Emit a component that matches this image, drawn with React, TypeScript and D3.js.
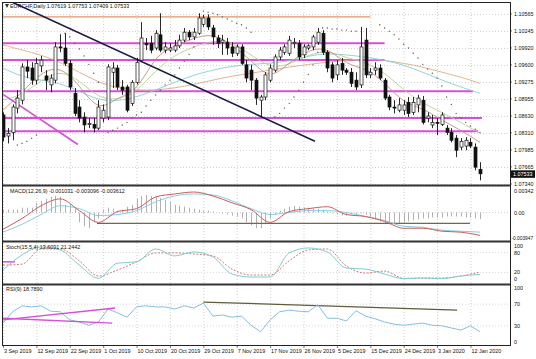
import * as d3 from "d3";

// EURCHF Daily, 3 Sep 2019 .. 14 Jan 2020 — [open, high, low, close]
const candles: [number, number, number, number][] = [
  [1.0865, 1.0870, 1.0815, 1.0823], [1.0825, 1.0840, 1.0811, 1.0830], [1.0832, 1.0885, 1.0817, 1.0880],
  [1.0878, 1.0912, 1.0868, 1.0897], [1.0893, 1.0963, 1.0885, 1.0956], [1.0956, 1.0969, 1.0935, 1.0948],
  [1.0954, 1.0965, 1.0922, 1.0931], [1.0931, 1.0973, 1.0923, 1.0963], [1.0958, 1.0977, 1.0946, 1.0969],
  [1.0939, 1.0950, 1.0912, 1.0931], [1.0922, 1.0942, 1.0908, 1.0935], [1.0931, 1.1003, 1.0925, 1.0994],
  [1.0994, 1.1018, 1.0984, 1.0992], [1.0992, 1.1020, 1.0958, 1.0963], [1.0963, 1.0969, 1.0912, 1.0918],
  [1.0906, 1.0916, 1.0863, 1.0868], [1.0880, 1.0893, 1.0851, 1.0859], [1.0861, 1.0870, 1.0832, 1.0846],
  [1.0847, 1.0859, 1.0840, 1.0849], [1.0847, 1.0859, 1.0832, 1.0840], [1.0840, 1.0893, 1.0836, 1.0880],
  [1.0859, 1.0885, 1.0851, 1.0874], [1.0861, 1.0961, 1.0855, 1.0956], [1.0946, 1.0965, 1.0916, 1.0954],
  [1.0954, 1.0960, 1.0912, 1.0918], [1.0918, 1.0931, 1.0903, 1.0912], [1.0918, 1.0922, 1.0870, 1.0874],
  [1.0887, 1.0931, 1.0882, 1.0927], [1.0927, 1.0973, 1.0923, 1.0965], [1.0969, 1.1041, 1.0965, 1.1011],
  [1.1001, 1.1011, 1.0988, 1.0998], [1.1001, 1.1015, 1.0982, 1.0988], [1.0992, 1.1026, 1.0988, 1.1020],
  [1.1017, 1.1058, 1.0984, 1.0988], [1.0988, 1.1003, 1.0982, 1.0994], [1.0988, 1.1001, 1.0984, 1.0992],
  [1.0988, 1.1007, 1.0984, 1.0996], [1.0996, 1.1017, 1.0992, 1.1007], [1.1007, 1.1030, 1.1003, 1.1022],
  [1.1022, 1.1026, 1.1007, 1.1013], [1.1013, 1.1030, 1.1007, 1.1022], [1.1020, 1.1058, 1.1017, 1.1049],
  [1.1037, 1.1055, 1.1032, 1.1049], [1.1049, 1.1056, 1.1026, 1.1032], [1.1030, 1.1036, 1.0998, 1.1013],
  [1.1011, 1.1017, 1.0992, 1.1001], [1.1003, 1.1017, 1.0979, 1.1007], [1.1003, 1.1011, 1.0979, 1.0992],
  [1.0994, 1.1003, 1.0975, 1.0982], [1.0982, 1.0999, 1.0977, 1.0994], [1.0994, 1.0999, 1.0960, 1.0963],
  [1.0960, 1.0969, 1.0927, 1.0935], [1.0950, 1.0960, 1.0912, 1.0931], [1.0931, 1.0935, 1.0884, 1.0897],
  [1.0893, 1.0903, 1.0861, 1.0899], [1.0899, 1.0946, 1.0893, 1.0941], [1.0931, 1.0961, 1.0927, 1.0954],
  [1.0950, 1.0980, 1.0946, 1.0975], [1.0975, 1.0994, 1.0969, 1.0988], [1.0984, 1.0999, 1.0979, 1.0994],
  [1.0982, 1.1015, 1.0977, 1.1007], [1.1001, 1.1011, 1.0992, 1.1003], [1.1001, 1.1007, 1.0969, 1.0975],
  [1.0979, 1.0999, 1.0973, 1.0994], [1.0992, 1.0999, 1.0988, 1.0996], [1.0994, 1.1017, 1.0988, 1.1013],
  [1.1003, 1.1030, 1.0998, 1.1022], [1.1020, 1.1026, 1.0979, 1.0984], [1.0984, 1.0988, 1.0946, 1.0954],
  [1.0960, 1.0965, 1.0927, 1.0935], [1.0941, 1.0969, 1.0931, 1.0960], [1.0963, 1.0973, 1.0941, 1.0950],
  [1.0950, 1.0954, 1.0941, 1.0946], [1.0946, 1.0954, 1.0918, 1.0925], [1.0931, 1.0946, 1.0912, 1.0918],
  [1.0922, 1.1032, 1.0916, 1.0994], [1.1007, 1.1030, 1.0935, 1.0941], [1.0941, 1.0954, 1.0935, 1.0946],
  [1.0950, 1.0965, 1.0941, 1.0954], [1.0954, 1.0961, 1.0931, 1.0935], [1.0931, 1.0935, 1.0893, 1.0897],
  [1.0899, 1.0903, 1.0874, 1.0880], [1.0880, 1.0893, 1.0868, 1.0878], [1.0874, 1.0897, 1.0870, 1.0884],
  [1.0874, 1.0893, 1.0865, 1.0884], [1.0889, 1.0899, 1.0861, 1.0868], [1.0870, 1.0899, 1.0865, 1.0889],
  [1.0884, 1.0903, 1.0870, 1.0897], [1.0893, 1.0901, 1.0847, 1.0851], [1.0859, 1.0870, 1.0851, 1.0863],
  [1.0846, 1.0865, 1.0840, 1.0851], [1.0851, 1.0859, 1.0827, 1.0849], [1.0847, 1.0870, 1.0844, 1.0865],
  [1.0840, 1.0846, 1.0827, 1.0832], [1.0832, 1.0840, 1.0813, 1.0817], [1.0821, 1.0827, 1.0785, 1.0798],
  [1.0804, 1.0821, 1.0798, 1.0815], [1.0806, 1.0823, 1.0798, 1.0817], [1.0813, 1.0821, 1.0802, 1.0806],
  [1.0804, 1.0811, 1.0760, 1.0766], [1.07619, 1.07753, 1.07409, 1.07533],
];

const dateLabels = [
  "3 Sep 2019", "12 Sep 2019", "22 Sep 2019", "1 Oct 2019", "10 Oct 2019", "20 Oct 2019", "29 Oct 2019",
  "7 Nov 2019", "17 Nov 2019", "26 Nov 2019", "5 Dec 2019", "15 Dec 2019", "24 Dec 2019", "3 Jan 2020", "12 Jan 2020",
];
const priceTicks = [1.10565, 1.10245, 1.0992, 1.096, 1.09275, 1.08955, 1.0863, 1.0831, 1.07985, 1.07665, 1.0734];

// moving averages, read every 4th bar
const maIdx = [0, 4, 8, 12, 16, 20, 24, 28, 32, 36, 40, 44, 48, 52, 56, 60, 64, 68, 72, 76, 80, 84, 88, 92, 96, 100];
const maTeal = [1.0954, 1.0937, 1.0931, 1.0925, 1.091, 1.0893, 1.0891, 1.0899, 1.0912, 1.0927, 1.0941, 1.095, 1.0958, 1.0961, 1.0963, 1.0967, 1.0977, 1.0982, 1.0979, 1.0975, 1.0969, 1.096, 1.0946, 1.0931, 1.0918, 1.0906];
const maTan = [1.0998, 1.0988, 1.0979, 1.0965, 1.0946, 1.0927, 1.0916, 1.0912, 1.0912, 1.0916, 1.0923, 1.0931, 1.0939, 1.0944, 1.095, 1.0956, 1.0961, 1.0965, 1.0969, 1.0971, 1.0969, 1.0963, 1.0956, 1.0946, 1.0937, 1.0925];
const maFast = [1.0874, 1.0908, 1.0946, 1.0958, 1.0922, 1.087, 1.0899, 1.0908, 1.0979, 1.0996, 1.1011, 1.102, 1.0998, 1.0969, 1.0931, 1.0965, 1.0988, 1.0994, 1.096, 1.0954, 1.0927, 1.0887, 1.0878, 1.0855, 1.0836, 1.0813];
const maGreen = [1.0893, 1.0903, 1.0931, 1.095, 1.0931, 1.0897, 1.0893, 1.0908, 1.095, 1.0979, 1.0994, 1.1007, 1.1003, 1.0979, 1.0954, 1.096, 1.0979, 1.0988, 1.0973, 1.0965, 1.0946, 1.0912, 1.0887, 1.087, 1.0851, 1.083];

// parabolic SAR runs
const sarSegments = [
  { start: 3, values: [1.0808, 1.0811, 1.0815, 1.0821, 1.0827] },
  { start: 13, values: [1.102, 1.1013, 1.1001, 1.099, 1.0977, 1.0961, 1.0944, 1.0927] },
  { start: 22, values: [1.0832, 1.0836, 1.084, 1.0846, 1.0851, 1.0859, 1.0865, 1.087, 1.0882, 1.0893, 1.0903, 1.0912, 1.0922, 1.0931, 1.0941, 1.0954, 1.0967, 1.098, 1.0994] },
  { start: 42, values: [1.1062, 1.106, 1.1058, 1.1055, 1.1051, 1.1047, 1.1043, 1.1039, 1.1036, 1.103, 1.1022] },
  { start: 57, values: [1.0861, 1.0868, 1.0878, 1.0887, 1.0899, 1.0912, 1.0927, 1.0942, 1.096, 1.0984] },
  { start: 67, values: [1.103, 1.103, 1.1028, 1.1028, 1.1026, 1.1026, 1.1024, 1.1024] },
  { start: 79, values: [1.1036, 1.103, 1.1024, 1.1017, 1.1009, 1.0999, 1.0992, 1.0982, 1.0973, 1.0961, 1.0952, 1.0944, 1.0935, 1.092, 1.0899, 1.0885, 1.0868, 1.0859, 1.0851, 1.0844, 1.0838, 1.0832] },
];

// drawn objects: horizontal levels and trendlines (bar index, price)
const levels = [
  { price: 1.1051, end: 77, color: "#e3956a" },
  { price: 1.1001, end: 80, color: "#d64fd6" },
  { price: 1.0969, end: 80, color: "#d64fd6" },
  { price: 1.091, end: 98.5, color: "#d64fd6" },
  { price: 1.0859, end: 100.4, color: "#d64fd6" },
  { price: 1.0834, end: 99.6, color: "#d64fd6" },
];
const trendNavy: [number, number][] = [[1.9, 1.1079], [65.4, 1.0815]];
const trendPink: [number, number][] = [[0, 1.0904], [15.7, 1.0809]];

// MACD
const macdHist = [
  0.00047, 0.00047, 0.00047, 0.00047, 0.00078, 0.00078, 0.00078, 0.00155, 0.00186, 0.00217, 0.00248, 0.00264, 0.00248, 0.00124, 0.00124, 0.00062,
  -0.00155, -0.00217, -0.00248, -0.00155, -0.00093,
  0.00047, 0.00078, 0.00062, 0.00031, 0.00047, 0.00093, 0.00124,
  0.00217, 0.00264, 0.00279, 0.00264, 0.00248, 0.00233, 0.00202, 0.00171,
  0.00124, 0.00109, 0.00093, 0.00078, 0.00062, 0.00047, 0.00031, 0.00031,
  0.00016, 0, -0.00016, -0.00031, -0.00047,
  -0.00062, -0.00093, -0.00155, -0.00202, -0.00248, -0.00248, -0.00186,
  -0.00093, -0.00031, 0.00031,
  0.00062, 0.00093, 0.00109, 0.00093, 0.00078, 0.00078, 0.00062, 0.00062,
  0.00047, 0.00016, -0.00016, -0.00031, -0.00047, -0.00047, -0.00031, -0.00031, -0.00016,
  -0.00031, -0.00062, -0.00109, -0.0014,
  -0.00171, -0.00186, -0.00186, -0.00171, -0.00155, -0.0014, -0.00124, -0.00109, -0.00093, -0.00093,
  -0.00078, -0.00078, -0.00078, -0.00062, -0.00062, -0.00062, -0.00062, -0.00078, -0.00078, -0.00093, -0.00103,
];
const macdRed = [-0.00264, -0.00093, 0.00109, 0.00217, 0.00031, -0.00155, 0.00016, 0.00062, 0.00248, 0.00295, 0.00326, 0.00264, 0.00155, 0.00047, -0.00155, 0.00016, 0.00062, 0.00093, -0.00031, -0.00062, -0.0014, -0.00248, -0.00248, -0.00295, -0.0031, -0.00361];
const macdCyan = [-0.0031, -0.00186, -0.00031, 0.00109, 0.00062, -0.00047, -0.00031, 0.00031, 0.00171, 0.00264, 0.00295, 0.00279, 0.00186, 0.00062, -0.00031, 0, 0.00031, 0.00031, 0, -0.00062, -0.00124, -0.00217, -0.00233, -0.00279, -0.00295, -0.0031];
const macdLevel = { from: 19.7, to: 97.9, value: -0.0017 };

// Stochastic
const stochMain = [27, 73, 97, 88, 42, 2, 48, 52, 91, 70, 82, 67, 15, 6, 6, 79, 94, 82, 33, 30, 15, 1, 3, 1, 9, 14];
const stochSignal = [42, 45, 91, 91, 55, 9, 27, 52, 79, 79, 76, 70, 30, 12, 12, 55, 88, 91, 39, 18, 24, 2, 3, 3, 9, 21];

// RSI, read every 2nd bar
const rsiValues = [35, 56, 67, 65, 67, 57, 56, 41, 37, 31, 37, 61, 54, 46, 65, 67, 65, 65, 61, 67, 63, 72, 48, 50, 46, 48, 31, 19, 41, 56, 59, 57, 56, 69, 44, 44, 39, 58, 48, 43, 37, 33, 31, 33, 35, 31, 30, 26, 22, 30, 19];
const rsiTrend: [number, number][] = [[42, 74], [95.2, 59]];
const rsiPink1: [number, number][] = [[0, 41], [23.5, 63]];
const rsiPink2: [number, number][] = [[0, 44], [22.9, 35]];

const FONT = "'Liberation Sans', Arial, sans-serif";
const GRID = "#bdbdbd";

export default function App() {
  const left = 3, right = 510;
  const x = d3.scaleLinear().domain([0, 100]).range([3, 480]);
  const yMain = d3.scaleLinear().domain([1.10565, 1.0734]).range([14, 184]);
  const yMacd = d3.scaleLinear().domain([0.00342, -0.003947]).range([191, 237.5]);
  const yStoch = d3.scaleLinear().domain([0, 100]).range([279, 246]);
  const yRsi = d3.scaleLinear().domain([0, 100]).range([342, 288]);

  const maLine = d3.line<number>().x((_, k) => x(maIdx[k])).y(v => yMain(v)).curve(d3.curveBasis);
  const macdLine = d3.line<number>().x((_, k) => x(maIdx[k])).y(v => yMacd(v)).curve(d3.curveMonotoneX);
  const stochLine = d3.line<number>().x((_, k) => x(maIdx[k])).y(v => yStoch(v)).curve(d3.curveMonotoneX);
  const rsiLine = d3.line<number>().x((_, k) => x(k * 2)).y(v => yRsi(v));
  const seg = (pts: [number, number][], y: d3.ScaleLinear<number, number>) =>
    d3.line<[number, number]>().x(p => x(p[0])).y(p => y(p[1]))(pts) || "";

  const dateIdx = dateLabels.map((_, k) => k * 7);
  const txt = { fontFamily: FONT, fontSize: 5.4, fill: "#111" } as const;

  return (
    <div style={{ position: "absolute", left: 0, top: 0, width: 536, height: 359, background: "#fff" }}>
      <svg width={536} height={359} style={{ display: "block" }}>
        <defs>
          <clipPath id="cMain"><rect x={left} y={3} width={right - left} height={182} /></clipPath>
          <clipPath id="cMacd"><rect x={left} y={186} width={right - left} height={55} /></clipPath>
          <clipPath id="cStoch"><rect x={left} y={242} width={right - left} height={42} /></clipPath>
          <clipPath id="cRsi"><rect x={left} y={285} width={right - left} height={60} /></clipPath>
        </defs>
        <rect width={536} height={359} fill="#fff" />

        {/* grid */}
        {dateIdx.map(i => (
          <line key={"vg" + i} x1={x(i) + 0.5} x2={x(i) + 0.5} y1={3} y2={345} stroke={GRID} strokeWidth={0.7} strokeDasharray="1,2" />
        ))}
        {priceTicks.map(p => (
          <line key={"hg" + p} x1={left} x2={right} y1={Math.round(yMain(p)) + 0.5} y2={Math.round(yMain(p)) + 0.5} stroke={GRID} strokeWidth={0.7} strokeDasharray="1,2" />
        ))}
        <line x1={left} x2={right} y1={yMacd(0)} y2={yMacd(0)} stroke={GRID} strokeWidth={0.7} strokeDasharray="1,2" />
        {[80, 20].map(v => (
          <line key={"sg" + v} x1={left} x2={right} y1={yStoch(v)} y2={yStoch(v)} stroke={GRID} strokeWidth={0.6} strokeDasharray="1,2" />
        ))}
        {[70, 30].map(v => (
          <line key={"rg" + v} x1={left} x2={right} y1={yRsi(v)} y2={yRsi(v)} stroke={GRID} strokeWidth={0.6} strokeDasharray="1,2" />
        ))}

        {/* main panel */}
        <g clipPath="url(#cMain)">
          {levels.map(l => (
            <line key={"lv" + l.price} x1={left} x2={x(l.end)} y1={yMain(l.price)} y2={yMain(l.price)} stroke={l.color} strokeWidth={l.color === "#e3956a" ? 1.3 : 2} />
          ))}
          <path d={maLine(maTan) || ""} fill="none" stroke="#d9ae83" strokeWidth={0.9} />
          <path d={maLine(maTeal) || ""} fill="none" stroke="#86cfd6" strokeWidth={0.9} />
          <path d={maLine(maGreen) || ""} fill="none" stroke="#b5d38f" strokeWidth={0.9} />
          <path d={maLine(maFast) || ""} fill="none" stroke="#c88c7c" strokeWidth={0.9} />
          <path d={seg(trendPink, yMain)} stroke="#d64fd6" strokeWidth={1.6} fill="none" />
          <path d={seg(trendNavy, yMain)} stroke="#1c1c48" strokeWidth={1.6} fill="none" />
          {sarSegments.flatMap(s => s.values.map((v, k) => (
            <circle key={"sar" + (s.start + k)} cx={x(s.start + k)} cy={yMain(v)} r={0.7} fill="#555" />
          )))}
          {candles.map(([o, h, l, c], i) => {
            const cx = Math.round(x(i)) + 0.5;
            const top = yMain(Math.max(o, c));
            const bh = Math.max(1, Math.abs(yMain(o) - yMain(c)));
            const bull = c >= o;
            return (
              <g key={"c" + i}>
                <line x1={cx} x2={cx} y1={yMain(h)} y2={yMain(l)} stroke="#111" strokeWidth={0.9} />
                <rect x={cx - 1.5} y={top} width={3} height={bh} fill={bull ? "#fff" : "#111"} stroke="#111" strokeWidth={0.7} />
              </g>
            );
          })}
        </g>

        {/* MACD */}
        <g clipPath="url(#cMacd)">
          {macdHist.map((v, i) => (
            <line key={"h" + i} x1={Math.round(x(i)) + 0.5} x2={Math.round(x(i)) + 0.5} y1={yMacd(0)} y2={yMacd(v)} stroke="#a8a8a8" strokeWidth={0.9} />
          ))}
          <line x1={x(macdLevel.from)} x2={x(macdLevel.to)} y1={yMacd(macdLevel.value)} y2={yMacd(macdLevel.value)} stroke="#6f6c3a" strokeWidth={1.3} />
          <path d={macdLine(macdCyan) || ""} fill="none" stroke="#84cfe0" strokeWidth={1} />
          <path d={macdLine(macdRed) || ""} fill="none" stroke="#d05a5a" strokeWidth={1} />
        </g>

        {/* Stochastic */}
        <g clipPath="url(#cStoch)">
          <line x1={left} x2={x(2.5)} y1={yStoch(52)} y2={yStoch(52)} stroke="#d64fd6" strokeWidth={1.5} />
          <path d={stochLine(stochSignal) || ""} fill="none" stroke="#d06a6a" strokeWidth={0.9} strokeDasharray="2,1.5" />
          <path d={stochLine(stochMain) || ""} fill="none" stroke="#80cdd2" strokeWidth={1} />
        </g>

        {/* RSI */}
        <g clipPath="url(#cRsi)">
          <path d={seg(rsiTrend, yRsi)} stroke="#5e5c3a" strokeWidth={1.2} fill="none" />
          <path d={rsiLine(rsiValues) || ""} fill="none" stroke="#85bfe0" strokeWidth={1} />
          <path d={seg(rsiPink1, yRsi)} stroke="#d64fd6" strokeWidth={1.4} fill="none" />
          <path d={seg(rsiPink2, yRsi)} stroke="#d64fd6" strokeWidth={1.4} fill="none" />
        </g>

        {/* frames */}
        <rect x={left - 0.5} y={2.5} width={right - left + 1} height={343} fill="none" stroke="#222" strokeWidth={1} />
        {[185.5, 241.5, 284.5].map(y => (
          <line key={"sep" + y} x1={left} x2={right} y1={y} y2={y} stroke="#333" strokeWidth={2} />
        ))}

        {/* right axis labels */}
        {priceTicks.map(p => (
          <g key={"pt" + p}>
            <line x1={right} x2={right + 2} y1={yMain(p)} y2={yMain(p)} stroke="#222" strokeWidth={0.6} />
            <text x={514} y={yMain(p) + 2} {...txt}>{d3.format(".5f")(p)}</text>
          </g>
        ))}
        <rect x={511} y={yMain(1.07533) - 3.5} width={24} height={7.5} fill="#111" />
        <text x={513} y={yMain(1.07533) + 2} {...txt} fill="#fff">1.07533</text>

        <text x={514} y={yMacd(0.00342) + 2} {...txt}>0.00342</text>
        <text x={514} y={yMacd(0) + 2} {...txt}>0.00</text>
        <text x={511.5} y={yMacd(-0.003947) + 2} {...txt} fontSize={4.8}>-0.003947</text>

        {[100, 80, 20, 0].map(v => (
          <text key={"st" + v} x={514} y={yStoch(v) + 2} {...txt}>{v}</text>
        ))}
        {[100, 70, 30, 0].map(v => (
          <text key={"rt" + v} x={514} y={yRsi(v) + 2} {...txt}>{v}</text>
        ))}

        {/* date axis */}
        {dateLabels.map((d, k) => (
          <g key={"d" + k}>
            <line x1={x(dateIdx[k]) + 0.5} x2={x(dateIdx[k]) + 0.5} y1={345} y2={348} stroke="#222" strokeWidth={0.6} />
            <text x={x(dateIdx[k]) + 1} y={353} {...txt}>{d}</text>
          </g>
        ))}

        {/* titles */}
        <path d="M5,4 L9,4 L7,8 Z" fill="#333" />
        <text x={10} y={8} {...txt}>EURCHF,Daily  1.07619 1.07753 1.07409 1.07533</text>
        <text x={10} y={193} {...txt}>MACD(12,26,9) -0.001031 -0.003096 -0.003612</text>
        <text x={6} y={249} {...txt}>Stoch(15,5,4) 13.6091 21.2442</text>
        <text x={6} y={291} {...txt}>RSI(9) 18.7890</text>
      </svg>
    </div>
  );
}
